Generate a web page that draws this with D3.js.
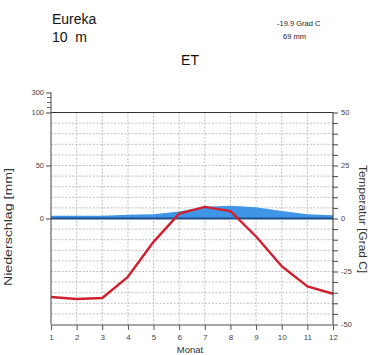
<!DOCTYPE html>
<html>
<head>
<meta charset="utf-8">
<script src="https://cdn.jsdelivr.net/npm/d3@7"></script>
<style>
  html, body { margin: 0; padding: 0; background: #fff; }
  svg { display: block; font-family: "Liberation Sans", Arial, Helvetica, sans-serif; }
</style>
</head>
<body>
<svg id="chart" width="380" height="355"></svg>
<script>
// Klimadiagramm Eureka (Walter/Lieth style)
const station = "Eureka";
const elevation = "10  m";
const climateClass = "ET";
const meanTempLabel = "-19.9 Grad C";
const annualPrecipLabel = "69 mm";

const months = [1, 2, 3, 4, 5, 6, 7, 8, 9, 10, 11, 12];
const temperature = [-37, -38, -37.5, -27.5, -11, 2.3, 5.5, 3.5, -8.5, -22.5, -32, -35.5];
const precipitation = [2.5, 2.5, 2.5, 3.5, 4, 6.5, 11, 12, 10.5, 7, 4, 3];

const precipTicks = [0, 50, 100];
const precipUpperTicks = [300];
const tempTicks = [50, 25, 0, -25, -50];

const svg = d3.select("#chart");

const left = 51, right = 333;
const x = d3.scaleLinear().domain([1, 12]).range([left, right]);
const yT = d3.scaleLinear().domain([-50, 50]).range([324.5, 112.5]);
// 2 mm precipitation per 1 °C up to 100 mm, compressed above
const yP = d3.scaleLinear().domain([0, 100, 300]).range([yT(0), yT(50), 92.5]);

// Grid
const grid = svg.append("g");
d3.range(-45, 50, 5).forEach(t => {
  grid.append("line")
    .attr("x1", left).attr("x2", right)
    .attr("y1", yT(t)).attr("y2", yT(t))
    .attr("stroke", "#b0b0b0").attr("stroke-width", 0.8)
    .attr("stroke-dasharray", "2,1.5");
});
months.slice(1, -1).forEach(m => {
  grid.append("line")
    .attr("x1", x(m)).attr("x2", x(m))
    .attr("y1", yT(50)).attr("y2", yT(-50))
    .attr("stroke", "#b0b0b0").attr("stroke-width", 0.8)
    .attr("stroke-dasharray", "2,1.5");
});

// Precipitation area
const area = d3.area()
  .x((d, i) => x(months[i]))
  .y0(yP(0))
  .y1(d => yP(d));
svg.append("path")
  .datum(precipitation)
  .attr("d", area)
  .attr("fill", "#3f95e6");

// Zero line
svg.append("line")
  .attr("x1", left).attr("x2", right)
  .attr("y1", yP(0)).attr("y2", yP(0))
  .attr("stroke", "#1f4f8c").attr("stroke-width", 2);

// Temperature curve
const line = d3.line()
  .x((d, i) => x(months[i]))
  .y(d => yT(d));
svg.append("path")
  .datum(temperature)
  .attr("d", line)
  .attr("fill", "none")
  .attr("stroke", "#d0202e")
  .attr("stroke-width", 2.4)
  .attr("stroke-linejoin", "round");

// Top frame at 100 mm / 50 °C
svg.append("line")
  .attr("x1", left).attr("x2", right)
  .attr("y1", yT(50)).attr("y2", yT(50))
  .attr("stroke", "#333").attr("stroke-width", 1);

// Left axis (precipitation)
const leftAxis = d3.axisLeft(yP)
  .tickValues(precipTicks.concat(precipUpperTicks))
  .tickSize(5).tickPadding(2);
const gl = svg.append("g").attr("transform", `translate(${left},0)`).call(leftAxis);
gl.select(".domain").remove();
gl.append("line").attr("x1", 0).attr("x2", 0)
  .attr("y1", yP(300)).attr("y2", yT(-50))
  .attr("stroke", "#444").attr("stroke-width", 1);
[150, 200, 250].forEach(v => {
  gl.append("line").attr("x1", -4).attr("x2", 0)
    .attr("y1", yP(v)).attr("y2", yP(v))
    .attr("stroke", "#444").attr("stroke-width", 0.8);
});
gl.selectAll(".tick line").attr("stroke", "#444");
gl.selectAll(".tick text").attr("font-size", 7.5).attr("fill", "#444")
  .attr("font-family", "Liberation Sans, Arial, sans-serif");

// Right axis (temperature)
const rightAxis = d3.axisRight(yT)
  .tickValues(d3.range(-50, 55, 5))
  .tickSize(5).tickPadding(3)
  .tickFormat(d => tempTicks.includes(d) ? d : "");
const gr = svg.append("g").attr("transform", `translate(${right},0)`).call(rightAxis);
gr.select(".domain").attr("stroke", "#333").attr("d", `M0,${yT(50)}V${yT(-50)}`);
gr.selectAll(".tick line").attr("stroke", "#444");
gr.selectAll(".tick text").attr("font-size", 7.5).attr("fill", "#444")
  .attr("font-family", "Liberation Sans, Arial, sans-serif");

// Bottom axis (months)
const bottomAxis = d3.axisBottom(x).tickValues(months).tickSize(5).tickPadding(4)
  .tickFormat(d3.format("d"));
const gb = svg.append("g").attr("transform", `translate(0,${yT(-50) + 0.5})`).call(bottomAxis);
gb.select(".domain").attr("stroke", "#888").attr("stroke-width", 1.6)
  .attr("d", `M${left},0H${right}`);
gb.selectAll(".tick line").attr("stroke", "#555");
gb.selectAll(".tick text").attr("font-size", 8).attr("fill", "#444")
  .attr("font-family", "Liberation Sans, Arial, sans-serif");

// Titles
svg.append("text").attr("x", 52).attr("y", 24).attr("font-size", 14).attr("fill", "#111").text(station);
svg.append("text").attr("x", 52).attr("y", 42).attr("font-size", 14).attr("fill", "#111").text(elevation)
  .attr("xml:space", "preserve").style("white-space", "pre");
svg.append("text").attr("x", 190).attr("y", 65).attr("font-size", 14).attr("fill", "#111")
  .attr("text-anchor", "middle").text(climateClass);
svg.append("text").attr("x", 277).attr("y", 26).attr("font-size", 7.5).attr("fill", "#222").text(meanTempLabel);
svg.append("text").attr("x", 283).attr("y", 39).attr("font-size", 7.5).attr("fill", "#222").text(annualPrecipLabel);

// Axis titles
svg.append("text")
  .attr("transform", `translate(12,${227}) rotate(-90)`)
  .attr("text-anchor", "middle").attr("font-size", 11).attr("fill", "#333")
  .attr("textLength", 118).attr("lengthAdjust", "spacingAndGlyphs")
  .text("Niederschlag [mm]");
svg.append("text")
  .attr("transform", `translate(359,${219}) rotate(90)`)
  .attr("text-anchor", "middle").attr("font-size", 10).attr("fill", "#333")
  .attr("textLength", 108).attr("lengthAdjust", "spacingAndGlyphs")
  .text("Temperatur [Grad C]");
svg.append("text").attr("x", 190).attr("y", 352.5).attr("font-size", 9.5).attr("fill", "#333")
  .attr("text-anchor", "middle").text("Monat");
</script>
</body>
</html>
